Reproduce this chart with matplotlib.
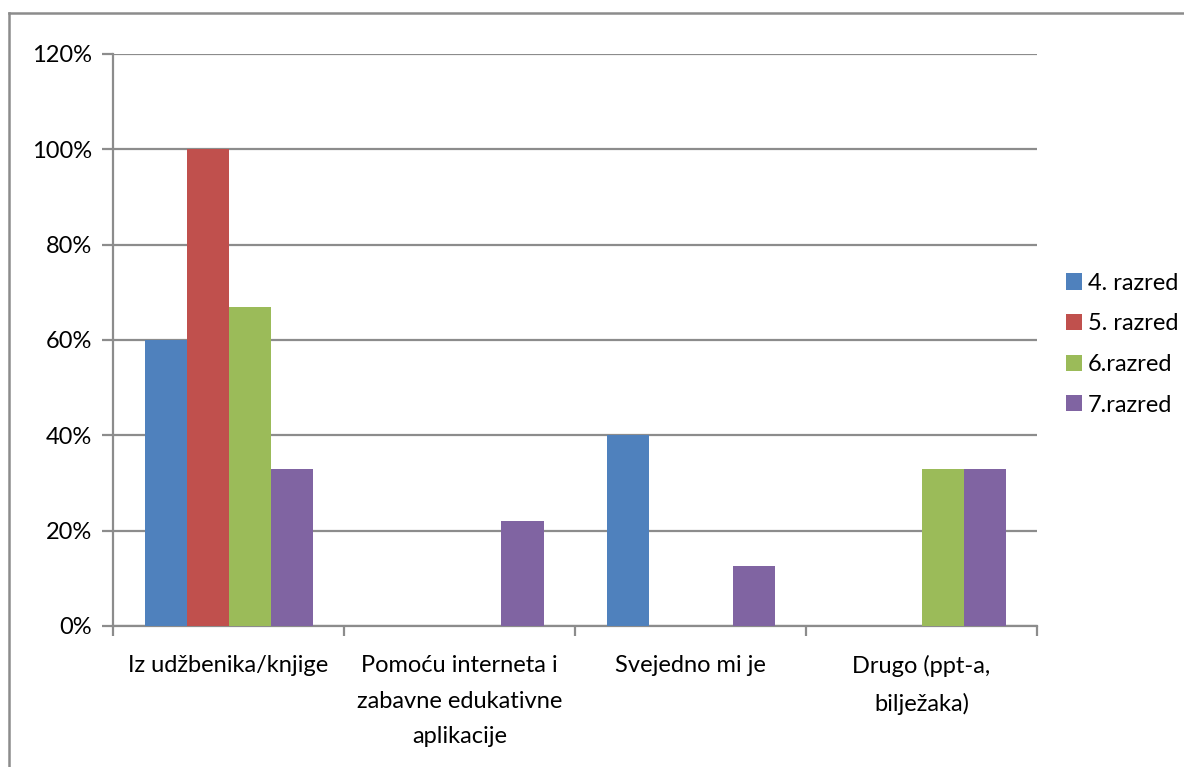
import matplotlib
matplotlib.use("Agg")
import matplotlib.pyplot as plt
from matplotlib.ticker import FuncFormatter, FixedLocator
from matplotlib.patches import Patch
from matplotlib.lines import Line2D
import numpy as np

categories = ["Iz udžbenika/knjige",
              "Pomoću interneta i\nzabavne edukativne\naplikacije",
              "Svejedno mi je",
              "Drugo (ppt-a,\nbilježaka)"]
series_names = ["4. razred", "5. razred", "6.razred", "7.razred"]
razred4 = [0.60, 0.0, 0.40, 0.0]
razred5 = [1.00, 0.0, 0.0, 0.0]
razred6 = [0.67, 0.0, 0.0, 0.33]
razred7 = [0.33, 0.22, 0.125, 0.33]
colors = ["#4F81BD", "#C0504D", "#9BBB59", "#8064A2"]
yticks = [0, 0.2, 0.4, 0.6, 0.8, 1.0, 1.2]

plt.rcParams['font.family'] = ['Lato', 'DejaVu Sans']
FS = 17

W, H = 1184, 767
fig = plt.figure(figsize=(W / 100, H / 100), dpi=100)
ax = fig.add_axes([113 / W, (H - 626) / H, (1037 - 113) / W, (626 - 54) / H])

grid_c = "#8C8C8C"
n = len(series_names)
gap = 1.5
bw = 1.0 / (n + gap)
x = np.arange(len(categories)) + 0.5
data = [razred4, razred5, razred6, razred7]
for i, (vals, c) in enumerate(zip(data, colors)):
    offs = (i - (n - 1) / 2) * bw
    ax.bar(x + offs, vals, width=bw, color=c, zorder=3, linewidth=0)

ax.set_xlim(0, len(categories))
ax.set_ylim(0, 1.2)
ax.set_yticks(yticks)
ax.yaxis.set_major_formatter(FuncFormatter(lambda v, p: f"{int(round(v * 100))}%"))
ax.yaxis.grid(True, color=grid_c, linewidth=1.6, zorder=0)
ax.set_axisbelow(True)

ax.xaxis.set_major_locator(FixedLocator(np.arange(len(categories) + 1)))
ax.xaxis.set_major_formatter(FuncFormatter(lambda v, p: ""))
ax.xaxis.set_minor_locator(FixedLocator(x))
ax.set_xticklabels(categories, minor=True, fontsize=FS, linespacing=1.86)
ax.tick_params(axis='x', which='major', length=7, width=1.6, color=grid_c, direction='out')
ax.tick_params(axis='x', which='minor', length=0, pad=21)
ax.tick_params(axis='y', which='major', length=8, width=1.6, color=grid_c, direction='out',
               labelsize=FS, pad=7)

for s in ['top', 'right']:
    ax.spines[s].set_visible(False)
for s in ['left', 'bottom']:
    ax.spines[s].set_color(grid_c)
    ax.spines[s].set_linewidth(1.6)

handles = [Patch(facecolor=c, edgecolor='none') for c in colors]
leg = fig.legend(handles, series_names, loc='upper left',
                 bbox_to_anchor=(1061 / W, 1 - 268 / H), frameon=False,
                 fontsize=FS, handlelength=0.68, handleheight=0.68,
                 handletextpad=0.27, labelspacing=0.83, borderaxespad=0,
                 borderpad=0.2)

# outer chart border (partially visible)
fig.add_artist(Line2D([8.5 / W, 8.5 / W], [0, 1 - 12.5 / H], transform=fig.transFigure,
                      color=grid_c, linewidth=1.8))
fig.add_artist(Line2D([8.5 / W, 1], [1 - 12.5 / H, 1 - 12.5 / H], transform=fig.transFigure,
                      color=grid_c, linewidth=1.8))

fig.savefig("out.png", dpi=100)
